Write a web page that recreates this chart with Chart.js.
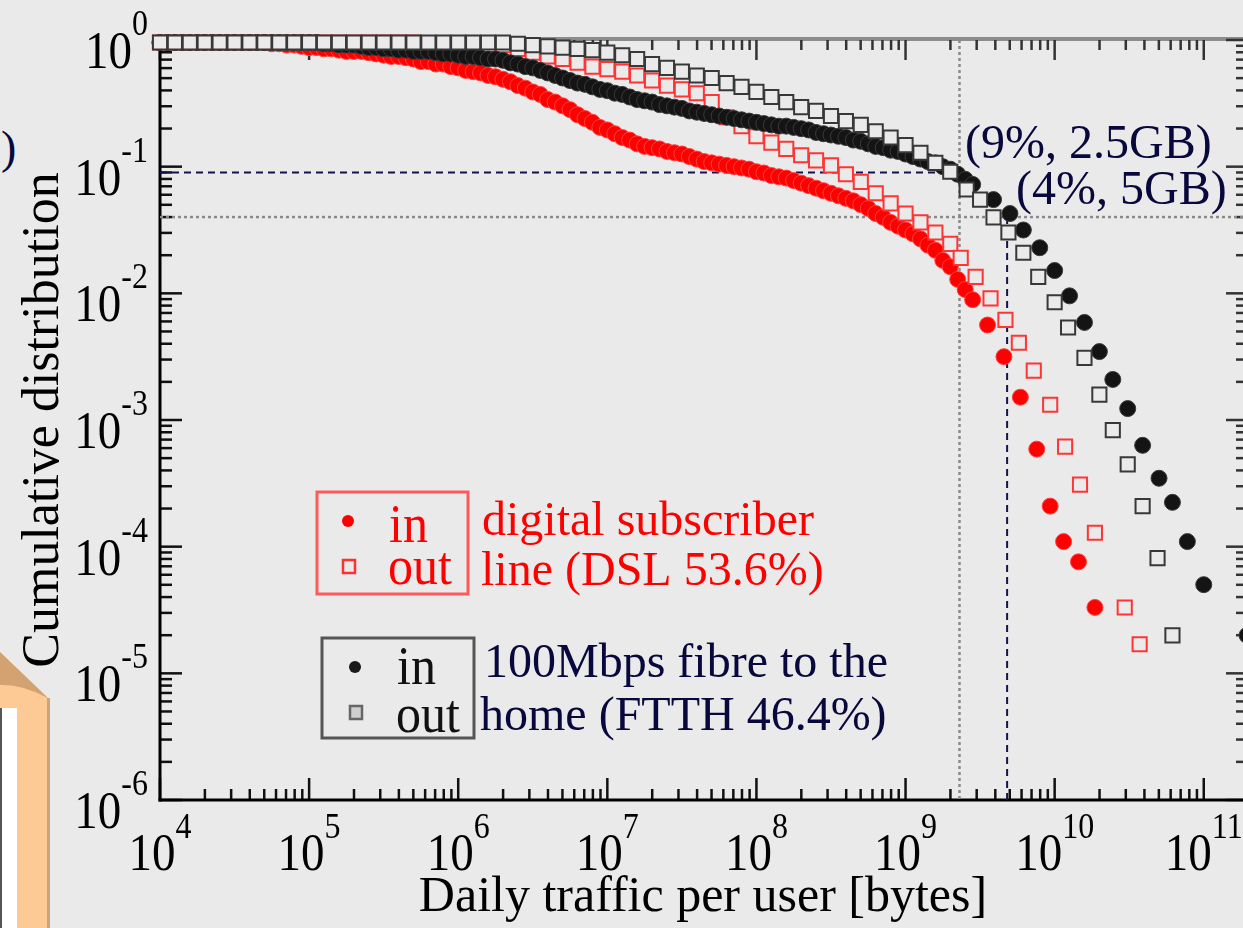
<!DOCTYPE html>
<html lang="en">
<head>
<meta charset="UTF-8" />
<title>Daily traffic per user - cumulative distribution</title>
<script src="https://cdn.jsdelivr.net/npm/chart.js@4"></script>
<style>
  html, body { margin: 0; padding: 0; background: #eaeaea; overflow: hidden; }
  #wrap { position: relative; width: 1243px; height: 928px; overflow: hidden; }
  #deco { position: absolute; left: 0; top: 0; }
  #side { position: absolute; left: 1px; top: 121px; font: 46px 'Liberation Serif', serif; color: #08083c; }
  #ccdf { position: absolute; left: 0; top: 0; }
</style>
</head>
<body>
<div id="wrap">
  <svg id="deco" width="60" height="928">
    <polygon points="0,652 48,698 48,928 0,928" fill="#fdc995" />
    <path d="M0,652 L48,698 Q22,684 0,685 Z" fill="#d3a270" />
    <rect x="47" y="698" width="3" height="230" fill="#c9a47c" />
    <rect x="0" y="708" width="17" height="220" fill="#ffffff" />
    <rect x="0" y="708" width="2" height="220" fill="#555555" />
  </svg>
  <div id="side">)</div>
  <canvas id="ccdf" width="1262" height="928"></canvas>
</div>

<script>
  // ---- data (log10 of bytes, log10 of share of users) ----
  // dense bins for the "in" curves
  const fineLogBytes = [
    4.00, 4.05, 4.10, 4.15, 4.20, 4.25, 4.30, 4.35, 4.40, 4.45, 4.50, 4.55, 4.60, 4.65, 4.70, 4.75, 4.80, 4.85, 4.90, 4.95,
    5.00, 5.05, 5.10, 5.15, 5.20, 5.25, 5.30, 5.35, 5.40, 5.45, 5.50, 5.55, 5.60, 5.65, 5.70, 5.75, 5.80, 5.85, 5.90, 5.95,
    6.00, 6.05, 6.10, 6.15, 6.20, 6.25, 6.30, 6.35, 6.40, 6.45, 6.50, 6.55, 6.60, 6.65, 6.70, 6.75, 6.80, 6.85, 6.90, 6.95,
    7.00, 7.05, 7.10, 7.15, 7.20, 7.25, 7.30, 7.35, 7.40, 7.45, 7.50, 7.55, 7.60, 7.65, 7.70, 7.75, 7.80, 7.85, 7.90, 7.95,
    8.00, 8.05, 8.10, 8.15, 8.20, 8.25, 8.30, 8.35, 8.40, 8.45, 8.50, 8.55, 8.60, 8.65, 8.70, 8.75, 8.80, 8.85, 8.90, 8.95,
    9.00, 9.05, 9.10, 9.15, 9.20, 9.25, 9.30, 9.35, 9.40, 9.45
  ];
  // coarser bins for the "out" curves
  const coarseLogBytes = [
    4.0, 4.1, 4.2, 4.3, 4.4, 4.5, 4.6, 4.7, 4.8, 4.9, 5.0, 5.1, 5.2, 5.3, 5.4, 5.5, 5.6, 5.7, 5.8, 5.9,
    6.0, 6.1, 6.2, 6.3, 6.4, 6.5, 6.6, 6.7, 6.8, 6.9, 7.0, 7.1, 7.2, 7.3, 7.4, 7.5, 7.6, 7.7, 7.8, 7.9,
    8.0, 8.1, 8.2, 8.3, 8.4, 8.5, 8.6, 8.7, 8.8, 8.9, 9.0, 9.1, 9.2, 9.3
  ];

  // DSL, incoming
  const dslInLogShare = [
    -0.02, -0.02, -0.02, -0.02, -0.02, -0.02, -0.02, -0.02, -0.02, -0.02, -0.02, -0.02, -0.02, -0.02, -0.02, -0.03, -0.03, -0.04, -0.04, -0.05,
    -0.06, -0.06, -0.07, -0.07, -0.08, -0.09, -0.09, -0.09, -0.10, -0.11, -0.12, -0.13, -0.13, -0.14, -0.15, -0.17, -0.17, -0.19, -0.19, -0.21,
    -0.22, -0.24, -0.25, -0.26, -0.28, -0.29, -0.31, -0.33, -0.36, -0.38, -0.41, -0.43, -0.47, -0.49, -0.52, -0.55, -0.59, -0.62, -0.65, -0.69,
    -0.71, -0.74, -0.77, -0.79, -0.82, -0.84, -0.85, -0.86, -0.88, -0.89, -0.90, -0.92, -0.94, -0.96, -0.97, -0.98, -0.99, -1.00, -1.01, -1.02,
    -1.04, -1.05, -1.07, -1.08, -1.09, -1.11, -1.13, -1.15, -1.17, -1.19, -1.21, -1.23, -1.25, -1.27, -1.30, -1.33, -1.37, -1.40, -1.44, -1.47,
    -1.50, -1.53, -1.57, -1.62, -1.66, -1.74, -1.79, -1.89, -1.97, -2.05
  ];
  const dslInTailLogBytes = [9.55, 9.66, 9.77, 9.88, 9.97, 10.06, 10.16, 10.27];
  const dslInTailLogShare = [-2.25, -2.50, -2.82, -3.23, -3.68, -3.96, -4.12, -4.48];

  // DSL, outgoing
  const dslOutLogShare = [
    -0.02, -0.02, -0.02, -0.02, -0.02, -0.02, -0.02, -0.02, -0.02, -0.02, -0.02, -0.02, -0.02, -0.02, -0.02, -0.02, -0.02, -0.02, -0.03, -0.03,
    -0.03, -0.04, -0.04, -0.04, -0.07, -0.10, -0.13, -0.15, -0.18, -0.21, -0.23, -0.25, -0.28, -0.32, -0.36, -0.39, -0.42, -0.49, -0.61, -0.68,
    -0.76, -0.81, -0.86, -0.91, -0.95, -0.99, -1.06, -1.12, -1.21, -1.29, -1.37, -1.44, -1.52, -1.61
  ];
  const dslOutTailLogBytes = [9.37, 9.47, 9.57, 9.67, 9.76, 9.86, 9.97, 10.07, 10.17, 10.27, 10.47, 10.57];
  const dslOutTailLogShare = [-1.72, -1.87, -2.04, -2.21, -2.39, -2.61, -2.88, -3.21, -3.51, -3.89, -4.48, -4.77];

  // FTTH, incoming
  const ftthInLogShare = [
    -0.02, -0.02, -0.02, -0.02, -0.02, -0.02, -0.02, -0.02, -0.02, -0.02, -0.02, -0.02, -0.02, -0.02, -0.02, -0.02, -0.02, -0.02, -0.02, -0.02,
    -0.02, -0.02, -0.03, -0.03, -0.04, -0.04, -0.04, -0.05, -0.06, -0.06, -0.07, -0.07, -0.08, -0.08, -0.09, -0.09, -0.09, -0.10, -0.11, -0.11,
    -0.12, -0.13, -0.13, -0.14, -0.15, -0.15, -0.16, -0.18, -0.19, -0.21, -0.22, -0.24, -0.26, -0.28, -0.30, -0.32, -0.34, -0.35, -0.37, -0.39,
    -0.40, -0.42, -0.43, -0.45, -0.47, -0.48, -0.49, -0.51, -0.52, -0.53, -0.54, -0.56, -0.57, -0.58, -0.59, -0.60, -0.61, -0.62, -0.63, -0.64,
    -0.65, -0.66, -0.67, -0.68, -0.68, -0.69, -0.70, -0.71, -0.73, -0.74, -0.75, -0.76, -0.77, -0.79, -0.80, -0.82, -0.84, -0.85, -0.87, -0.88,
    -0.90, -0.92, -0.94, -0.96, -0.97, -1.00, -1.02, -1.06, -1.10, -1.14
  ];
  const ftthInTailLogBytes = [9.59, 9.70, 9.79, 9.90, 10.00, 10.10, 10.20, 10.30, 10.39, 10.49, 10.59, 10.70, 10.79, 10.89, 11.00, 11.29];
  const ftthInTailLogShare = [-1.26, -1.37, -1.50, -1.64, -1.82, -2.02, -2.23, -2.46, -2.68, -2.91, -3.20, -3.46, -3.65, -3.96, -4.30, -4.70];

  // FTTH, outgoing
  const ftthOutLogShare = [
    -0.02, -0.02, -0.02, -0.02, -0.02, -0.02, -0.02, -0.02, -0.02, -0.02, -0.02, -0.02, -0.02, -0.02, -0.02, -0.02, -0.02, -0.02, -0.02, -0.02,
    -0.02, -0.02, -0.02, -0.02, -0.03, -0.04, -0.05, -0.06, -0.07, -0.08, -0.10, -0.12, -0.15, -0.19, -0.22, -0.25, -0.28, -0.30, -0.34, -0.37,
    -0.41, -0.45, -0.49, -0.53, -0.56, -0.60, -0.64, -0.67, -0.72, -0.77, -0.83, -0.89, -0.97, -1.04
  ];
  const ftthOutTailLogBytes = [9.41, 9.50, 9.59, 9.69, 9.79, 9.89, 10.00, 10.09, 10.20, 10.30, 10.39, 10.49, 10.59, 10.69, 10.79];
  const ftthOutTailLogShare = [-1.18, -1.26, -1.40, -1.52, -1.68, -1.87, -2.07, -2.27, -2.51, -2.80, -3.08, -3.35, -3.68, -4.09, -4.70];

  // marked thresholds: (9%, 2.5GB) and (4%, 5GB)
  const refShares = [0.09, 0.04];
  const refBytes = [2.3e9, 4.8e9];

  // axis decades
  const xTickExps = [4, 5, 6, 7, 8, 9, 10, 11];
  const yTickExps = [0, -1, -2, -3, -4, -5, -6];
  const X_MIN = 1e4, X_MAX = 1.92e11, Y_MIN = 1e-6, Y_MAX = 1;

  const SERIF = "'Liberation Serif', 'Times New Roman', serif";
  const NAVY = '#08083c';
  const BG = '#eaeaea';

  function toPoints(logX, logY) {
    return logX.map((e, i) => ({ x: Math.pow(10, e), y: Math.pow(10, logY[i]) }));
  }

  function seg(ctx, x1, y1, x2, y2) {
    ctx.beginPath();
    ctx.moveTo(x1, y1);
    ctx.lineTo(x2, y2);
    ctx.stroke();
  }

  // text with a slight vertical stretch, like the scanned figure
  function tallText(ctx, text, x, y, sy) {
    ctx.save();
    ctx.translate(x, y);
    ctx.scale(1, sy);
    ctx.fillText(text, 0, 0);
    ctx.restore();
  }

  // frame + inward ticks on all four sides
  const frameTicks = {
    id: 'frameTicks',
    beforeDatasetsDraw(chart) {
      const { ctx, chartArea: a, scales: { x, y } } = chart;
      ctx.save();
      ctx.lineCap = 'butt';

      ctx.strokeStyle = '#8c8c8c';
      ctx.lineWidth = 4;
      seg(ctx, a.left, a.top - 1, a.right, a.top - 1);
      seg(ctx, a.right, a.top, a.right, a.bottom);

      ctx.lineWidth = 2.5;
      for (const d of xTickExps) {
        for (let m = 1; m < 10; m++) {
          const v = m * Math.pow(10, d);
          if (v > X_MAX) break;
          const px = x.getPixelForValue(v);
          const len = m === 1 ? 22 : 11;
          ctx.strokeStyle = '#111';
          seg(ctx, px, a.bottom, px, a.bottom - len);
          ctx.strokeStyle = '#333';
          seg(ctx, px, a.top, px, a.top + (m === 1 ? 20 : 10));
        }
      }
      for (const d of yTickExps) {
        for (let m = 1; m < 10; m++) {
          const v = m * Math.pow(10, d);
          if (v > Y_MAX) break;
          const py = y.getPixelForValue(v);
          const len = m === 1 ? 22 : 12;
          ctx.strokeStyle = '#111';
          seg(ctx, a.left, py, a.left + len, py);
          ctx.strokeStyle = '#333';
          seg(ctx, a.right, py, a.right - (m === 1 ? 20 : 10), py);
        }
      }

      ctx.strokeStyle = '#000';
      ctx.lineWidth = 3;
      seg(ctx, a.left, a.top - 2, a.left, a.bottom + 1.5);
      seg(ctx, a.left - 1.5, a.bottom, a.right, a.bottom);
      ctx.restore();
    }
  };

  // tick labels (10 with raised exponent), legend boxes and notes
  const labelsAndNotes = {
    id: 'labelsAndNotes',
    afterDraw(chart) {
      const { ctx, chartArea: a, scales: { x, y } } = chart;
      const mainFont = '47px ' + SERIF;
      const expFont = '32px ' + SERIF;
      ctx.save();
      ctx.fillStyle = '#000';
      ctx.textAlign = 'left';
      ctx.textBaseline = 'alphabetic';

      for (const e of yTickExps) {
        const py = y.getPixelForValue(Math.pow(10, e));
        const exp = String(e);
        ctx.font = expFont;
        const ew = ctx.measureText(exp).width;
        ctx.font = mainFont;
        const mw = ctx.measureText('10').width;
        const right = a.left - 12;
        tallText(ctx, '10', right - ew - mw, py + 28, 1.12);
        ctx.font = expFont;
        tallText(ctx, exp, right - ew, py - 5, 1.12);
      }
      for (const e of xTickExps) {
        const px = x.getPixelForValue(Math.pow(10, e));
        const exp = String(e);
        ctx.font = expFont;
        const ew = ctx.measureText(exp).width;
        ctx.font = mainFont;
        const mw = ctx.measureText('10').width;
        const left = px - (mw + ew) / 2;
        tallText(ctx, '10', left, a.bottom + 70, 1.12);
        ctx.font = expFont;
        tallText(ctx, exp, left + mw, a.bottom + 38, 1.12);
      }

      // legend: DSL
      ctx.lineWidth = 3;
      ctx.strokeStyle = '#ff5a5a';
      ctx.strokeRect(317, 492, 151, 102);
      ctx.fillStyle = '#ff0000';
      ctx.beginPath(); ctx.arc(348, 521, 6, 0, Math.PI * 2); ctx.fill();
      ctx.strokeStyle = '#ff3030';
      ctx.lineWidth = 2.5;
      ctx.strokeRect(343, 560, 12, 13);
      ctx.font = '50px ' + SERIF;
      tallText(ctx, 'in', 389, 542, 1.1);
      tallText(ctx, 'out', 388, 584, 1.1);

      // legend: FTTH
      ctx.lineWidth = 3;
      ctx.strokeStyle = '#555';
      ctx.strokeRect(322, 638, 152, 100);
      ctx.fillStyle = '#1a1a1a';
      ctx.beginPath(); ctx.arc(355, 667, 6, 0, Math.PI * 2); ctx.fill();
      ctx.fillStyle = '#cfcfcf';
      ctx.fillRect(350, 706, 12, 13);
      ctx.strokeStyle = '#666';
      ctx.lineWidth = 2.5;
      ctx.strokeRect(350, 706, 12, 13);
      ctx.fillStyle = '#111';
      ctx.font = '50px ' + SERIF;
      tallText(ctx, 'in', 397, 684, 1.1);
      tallText(ctx, 'out', 396, 732, 1.1);

      // descriptions
      ctx.font = '48px ' + SERIF;
      ctx.fillStyle = '#ff0000';
      ctx.fillText('digital subscriber', 482, 535);
      ctx.fillText('line (DSL 53.6%)', 481, 585);
      ctx.fillStyle = NAVY;
      ctx.fillText('100Mbps fibre to the', 484, 677);
      ctx.fillText('home (FTTH 46.4%)', 480, 730);

      // threshold notes
      ctx.fillText('(9%, 2.5GB)', 965, 158);
      ctx.fillText('(4%, 5GB)', 1016, 204);
      ctx.restore();
    }
  };

  const refLine = (pts, color, dash, width) => ({
    data: pts,
    showLine: true,
    pointRadius: 0,
    borderColor: color,
    borderDash: dash,
    borderWidth: width,
    fill: false,
    order: 10
  });

  const chart = new Chart(document.getElementById('ccdf').getContext('2d'), {
    type: 'scatter',
    data: {
      datasets: [
        {
          label: 'FTTH out',
          data: toPoints(coarseLogBytes.concat(ftthOutTailLogBytes), ftthOutLogShare.concat(ftthOutTailLogShare)),
          pointStyle: 'rect', pointRadius: 10, borderWidth: 2,
          borderColor: '#383838', backgroundColor: BG, clip: false, order: 0
        },
        {
          label: 'FTTH in',
          data: toPoints(fineLogBytes.concat(ftthInTailLogBytes), ftthInLogShare.concat(ftthInTailLogShare)),
          pointStyle: 'circle', pointRadius: 8, borderWidth: 1,
          borderColor: '#3a3a3a', backgroundColor: '#141414', clip: false, order: 1
        },
        {
          label: 'DSL out',
          data: toPoints(coarseLogBytes.concat(dslOutTailLogBytes), dslOutLogShare.concat(dslOutTailLogShare)),
          pointStyle: 'rect', pointRadius: 10, borderWidth: 2,
          borderColor: '#ff3434', backgroundColor: BG, clip: false, order: 2
        },
        {
          label: 'DSL in',
          data: toPoints(fineLogBytes.concat(dslInTailLogBytes), dslInLogShare.concat(dslInTailLogShare)),
          pointStyle: 'circle', pointRadius: 8, borderWidth: 1,
          borderColor: '#ff4040', backgroundColor: '#ff0000', clip: false, order: 3
        },
        refLine([{ x: X_MIN, y: refShares[0] }, { x: refBytes[0], y: refShares[0] }], '#14144a', [7, 5], 2),
        refLine([{ x: refBytes[0], y: Y_MAX }, { x: refBytes[0], y: Y_MIN }], '#8a8a8a', [3, 3], 2.5),
        refLine([{ x: X_MIN, y: refShares[1] }, { x: X_MAX, y: refShares[1] }], '#8a8a8a', [3, 3], 2.5),
        refLine([{ x: refBytes[1], y: refShares[1] }, { x: refBytes[1], y: Y_MIN }], '#14144a', [7, 5], 2)
      ]
    },
    options: {
      responsive: false,
      animation: false,
      layout: { padding: { left: 0, top: 40, right: 16, bottom: 0 } },
      plugins: { legend: { display: false }, tooltip: { enabled: false } },
      scales: {
        x: {
          type: 'logarithmic', min: X_MIN, max: X_MAX,
          grid: { display: false }, border: { display: false }, ticks: { display: false },
          title: { display: true, text: 'Daily traffic per user [bytes]', color: '#000', font: { family: SERIF, size: 50 }, padding: 0 },
          afterFit: s => { s.height = 128; }
        },
        y: {
          type: 'logarithmic', min: Y_MIN, max: Y_MAX,
          grid: { display: false }, border: { display: false }, ticks: { display: false },
          title: { display: true, text: 'Cumulative distribution', color: '#000', font: { family: SERIF, size: 52 }, padding: { top: 13, bottom: 0 } },
          afterFit: s => { s.width = 160; }
        }
      }
    },
    plugins: [frameTicks, labelsAndNotes]
  });
</script>
</body>
</html>
